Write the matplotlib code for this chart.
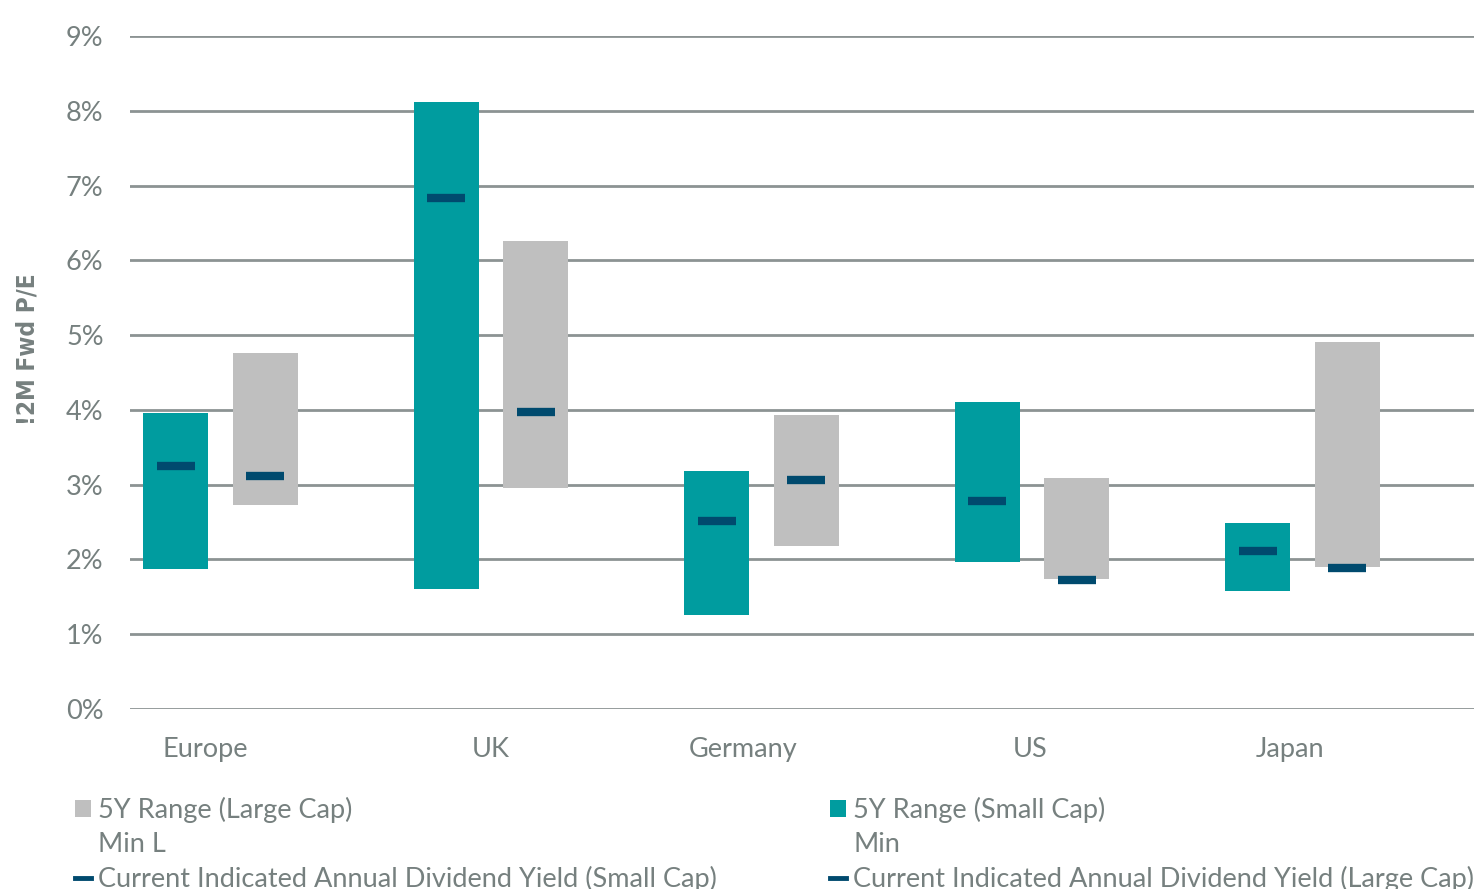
import numpy as np
import matplotlib
matplotlib.use("Agg")
import matplotlib.pyplot as plt
from matplotlib.patches import Patch
from matplotlib.lines import Line2D

# data (dividend yield, %)
regions = ["Europe", "UK", "Germany", "US", "Japan"]
small_min = [1.87, 1.60, 1.26, 1.97, 1.58]
small_max = [3.96, 8.12, 3.18, 4.11, 2.49]
small_cur = [3.25, 6.83, 2.51, 2.78, 2.11]
large_min = [2.73, 2.96, 2.18, 1.74, 1.90]
large_max = [4.76, 6.26, 3.93, 3.09, 4.91]
large_cur = [3.12, 3.97, 3.06, 1.72, 1.88]
yticks = [0, 1, 2, 3, 4, 5, 6, 7, 8, 9]
# category labels sit a bit left of the group centre in the original
label_shift = [-0.055, 0.0, -0.068, -0.006, -0.046]

teal = "#009C9F"
grey = "#BFBFBF"
navy = "#004A6E"
txt = "#76807F"
gridc = "#8C9393"
fs = 19.5

plt.rcParams["font.family"] = ["Lato", "DejaVu Sans"]

fig = plt.figure(figsize=(14.74, 8.89), dpi=100)
ax = fig.add_axes([130 / 1474, 1 - 709 / 889, 1 - 130 / 1474, (709 - 36) / 889])

x = np.arange(len(regions))
off = 0.166
w = 0.24
sm_lo = np.array(small_min)
lg_lo = np.array(large_min)
ax.bar(x - off, np.array(small_max) - sm_lo, bottom=sm_lo, width=w, color=teal, zorder=2)
ax.bar(x + off, np.array(large_max) - lg_lo, bottom=lg_lo, width=w, color=grey, zorder=2)

# current yield markers
mk_w = 0.14
ax.hlines(small_cur, x - off - mk_w / 2, x - off + mk_w / 2, color=navy, lw=6, zorder=3)
ax.hlines(large_cur, x + off - mk_w / 2, x + off + mk_w / 2, color=navy, lw=6, zorder=3)

ax.set_xlim((130 - 220.5) / 270.5, (1474 - 220.5) / 270.5)
ax.set_ylim(0, 9)
ax.set_yticks(yticks)
ax.set_yticklabels([f"{t}%" for t in yticks])
ax.yaxis.grid(True, color=gridc, lw=2)
ax.set_axisbelow(True)
for s in ax.spines.values():
    s.set_visible(False)
ax.tick_params(axis="both", length=0, labelsize=fs, labelcolor=txt)
ax.tick_params(axis="y", pad=19)
ax.tick_params(axis="x", pad=20)
ax.set_xticks(x + np.array(label_shift))
ax.set_xticklabels(regions)

ax.set_ylabel("!2M Fwd P/E", fontsize=17.5, fontweight="bold", color=txt,
              family="DejaVu Sans", fontstretch="condensed")
ax.yaxis.set_label_coords(-0.067, 0.535)

blank = Patch(facecolor="none", edgecolor="none")
h_left = [Patch(facecolor=grey), blank, Line2D([], [], color=navy, lw=3.5)]
l_left = ["5Y Range (Large Cap)", "Min L", "Current Indicated Annual Dividend Yield (Small Cap)"]
h_right = [Patch(facecolor=teal), blank, Line2D([], [], color=navy, lw=3.5)]
l_right = ["5Y Range (Small Cap)", "Min", "Current Indicated Annual Dividend Yield (Large Cap)"]

for hs, ls, xa in [(h_left, l_left, 75), (h_right, l_right, 830)]:
    fig.legend(hs, ls, loc="upper left", bbox_to_anchor=(xa / 1474, 1 - 797 / 889),
               frameon=False, fontsize=fs, labelcolor=txt, handlelength=0.6,
               handleheight=0.6, handletextpad=0.26, labelspacing=0.33,
               borderpad=0, borderaxespad=0)

fig.savefig("out.png", dpi=100)
